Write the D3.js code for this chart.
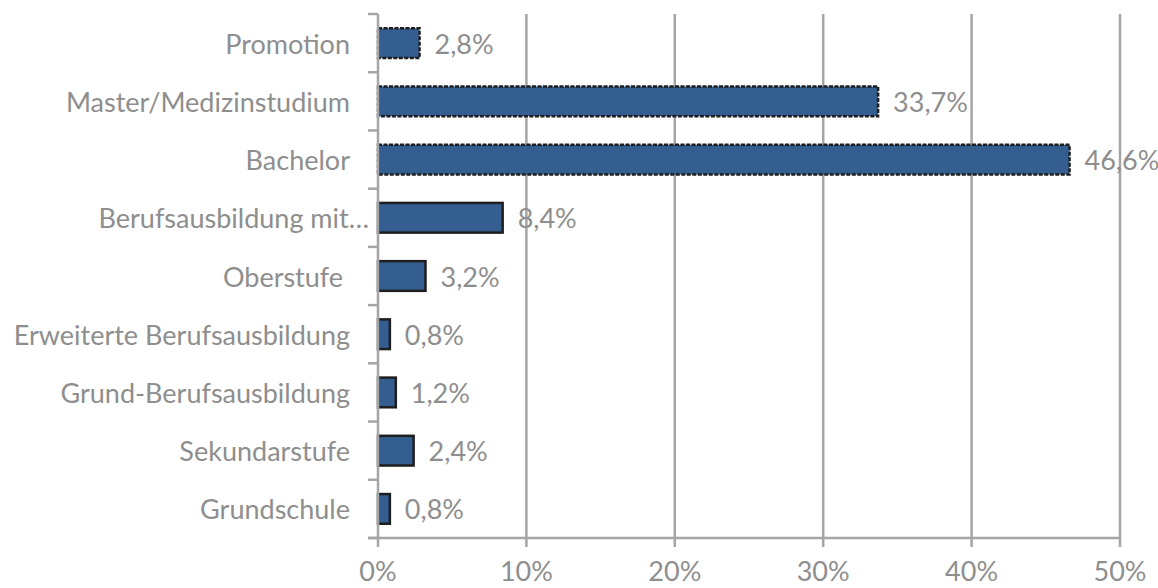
<!DOCTYPE html>
<html>
<head>
<meta charset="utf-8">
<script src="https://cdn.jsdelivr.net/npm/d3@7/dist/d3.min.js"></script>
<style>
  html, body { margin: 0; padding: 0; background: #ffffff; }
  svg text { font-family: Lato, "Open Sans", sans-serif; fill: #8e8e8e; white-space: pre; }
</style>
</head>
<body>
<svg id="chart" width="1158" height="588"></svg>
<script>
// Education levels, top to bottom
const categories = [
  "Promotion",
  "Master/Medizinstudium",
  "Bachelor",
  "Berufsausbildung mit…",
  "Oberstufe ",
  "Erweiterte Berufsausbildung",
  "Grund-Berufsausbildung",
  "Sekundarstufe",
  "Grundschule"
];
// Share of respondents in percent
const values = [2.8, 33.7, 46.6, 8.4, 3.2, 0.8, 1.2, 2.4, 0.8];
// Bars drawn with a dotted outline
const dottedOutline = ["Promotion", "Master/Medizinstudium", "Bachelor"];
const xTicks = [0, 10, 20, 30, 40, 50];

const svg = d3.select("#chart");
const plotLeft = 378, plotRight = 1120, plotTop = 14, plotBottom = 538;
const fontSize = 27;

const x = d3.scaleLinear().domain([0, 50]).range([plotLeft, plotRight]);
const y = d3.scaleBand().domain(categories).range([plotTop, plotBottom]).paddingInner(0.49).paddingOuter(0.245);

const gridColor = "#a5a5a5";

// Vertical gridlines with tick marks below the baseline
svg.append("g").selectAll("line").data(xTicks.slice(1)).join("line")
  .attr("x1", d => x(d)).attr("x2", d => x(d))
  .attr("y1", plotTop).attr("y2", plotBottom + 9)
  .attr("stroke", gridColor).attr("stroke-width", 2.5);

// Bars
svg.append("g").selectAll("rect").data(categories).join("rect")
  .attr("x", x(0))
  .attr("y", d => y(d))
  .attr("width", (d, i) => x(values[i]) - x(0))
  .attr("height", y.bandwidth())
  .attr("fill", "#335e8f")
  .attr("stroke", "#1e1e1e")
  .attr("stroke-width", 2.5)
  .attr("stroke-dasharray", d => dottedOutline.includes(d) ? "4,1.5" : null);

// Category axis line with boundary ticks
const boundaries = d3.range(categories.length + 1).map(i => plotTop + i * (plotBottom - plotTop) / categories.length);
svg.append("line")
  .attr("x1", x(0)).attr("x2", x(0)).attr("y1", plotTop).attr("y2", plotBottom + 9)
  .attr("stroke", gridColor).attr("stroke-width", 2.5);
svg.append("g").selectAll("line").data(boundaries).join("line")
  .attr("x1", x(0) - 10).attr("x2", x(0))
  .attr("y1", d => d).attr("y2", d => d)
  .attr("stroke", gridColor).attr("stroke-width", 2.5);

// Value axis baseline
svg.append("line")
  .attr("x1", x(0) - 10).attr("x2", x(50)).attr("y1", plotBottom).attr("y2", plotBottom)
  .attr("stroke", gridColor).attr("stroke-width", 2.5);

// Tick labels
svg.append("g").selectAll("text").data(xTicks).join("text")
  .attr("x", d => x(d)).attr("y", 581)
  .attr("text-anchor", "middle")
  .attr("font-size", fontSize)
  .text(d => d + "%");

// Category labels (truncated labels run up to the tick marks)
svg.append("g").selectAll("text").data(categories).join("text")
  .attr("x", d => d.endsWith("…") ? x(0) - 9 : x(0) - 28)
  .attr("y", d => y(d) + y.bandwidth() / 2)
  .attr("text-anchor", "end").attr("dominant-baseline", "central")
  .attr("font-size", fontSize)
  .text(d => d);

// Value labels
svg.append("g").selectAll("text").data(categories).join("text")
  .attr("x", (d, i) => x(values[i]) + 15).attr("y", d => y(d) + y.bandwidth() / 2)
  .attr("dominant-baseline", "central")
  .attr("font-size", fontSize)
  .text((d, i) => values[i].toFixed(1).replace(".", ",") + "%");
</script>
</body>
</html>
